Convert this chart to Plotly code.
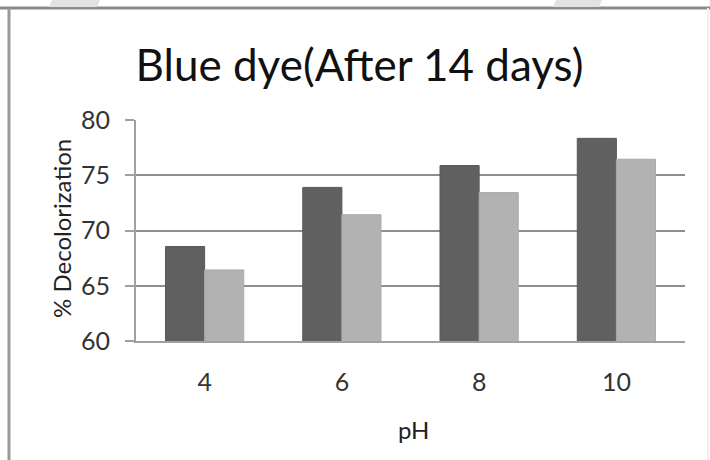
import plotly.graph_objects as go

# ---- data ----
ph_labels = ["4", "6", "8", "10"]
series_a = [68.55, 73.9, 75.88, 78.34]   # dark bars
series_b = [66.43, 71.43, 73.43, 76.45]  # light bars
y_ticks = [60, 65, 70, 75, 80]

W, H = 710, 460
L, R, T, B = 136, 25, 120, 119
pw, ph = W - L - R, H - T - B

def px(x):
    return (x - L) / pw

def py(y):
    return (H - B - y) / ph

FONT = "Lato"

fig = go.Figure()
fig.add_trace(go.Bar(x=ph_labels, y=series_a, name="Series 1",
                     marker=dict(color="#606060", line=dict(color="#585858", width=1))))
fig.add_trace(go.Bar(x=ph_labels, y=series_b, name="Series 2",
                     marker=dict(color="#b2b2b2", line=dict(color="#aaaaaa", width=1))))

shapes = [
    # top frame line
    dict(type="line", xref="paper", yref="paper", x0=px(0), x1=px(710), y0=py(8), y1=py(8),
         line=dict(color="#8a8a8a", width=3), layer="above"),
    # left frame line
    dict(type="line", xref="paper", yref="paper", x0=px(9), x1=px(9), y0=py(8), y1=py(460),
         line=dict(color="#9a9a9a", width=3), layer="above"),
    # faint right edge
    dict(type="line", xref="paper", yref="paper", x0=px(708), x1=px(708), y0=py(8), y1=py(460),
         line=dict(color="#f0f0f0", width=2), layer="above"),
    # light watermark pieces at the top
    dict(type="path", xref="paper", yref="paper",
         path="M {},{} L {},{} L {},{} L {},{} Z".format(px(52), py(0), px(100), py(0), px(97), py(7), px(49), py(7)),
         fillcolor="#e2e2e2", line=dict(width=0), layer="above"),
    dict(type="path", xref="paper", yref="paper",
         path="M {},{} L {},{} L {},{} L {},{} Z".format(px(556), py(0), px(602), py(0), px(599), py(7), px(553), py(7)),
         fillcolor="#e2e2e2", line=dict(width=0), layer="above"),
]

annotations = [
    dict(text="% Decolorization", xref="paper", yref="paper", x=px(61), y=py(229),
         xanchor="center", yanchor="middle", textangle=-90, showarrow=False,
         font=dict(family=FONT, size=24, color="#222222")),
    dict(text="pH", xref="paper", yref="paper", x=px(413), y=py(429),
         xanchor="center", yanchor="middle", showarrow=False,
         font=dict(family=FONT, size=24, color="#222222")),
]

fig.update_layout(
    width=W, height=H,
    margin=dict(l=L, r=R, t=T, b=B, autoexpand=False),
    paper_bgcolor="white", plot_bgcolor="white",
    title=dict(text="Blue dye(After 14 days)", x=359.5 / W, xanchor="center",
               y=1 - 66 / H, yanchor="middle", yref="container",
               font=dict(family=FONT, size=44, color="#111111")),
    barmode="group", bargap=0.43, bargroupgap=0.0,
    showlegend=False,
    shapes=shapes, annotations=annotations,
    xaxis=dict(type="category", showline=True, linecolor="#a0a0a0", linewidth=2,
               ticks="", showgrid=False, ticklabelstandoff=18,
               tickfont=dict(family=FONT, size=25, color="#333333")),
    yaxis=dict(range=[60, 80], tickvals=y_ticks, showline=True, linecolor="#a0a0a0", linewidth=2,
               ticks="outside", ticklen=9, tickcolor="#a0a0a0", tickwidth=1.5,
               showgrid=True, gridcolor="#8e8e8e", gridwidth=1.5, zeroline=False,
               ticklabelstandoff=10,
               tickfont=dict(family=FONT, size=25, color="#333333")),
)

fig.write_html("out.html")
